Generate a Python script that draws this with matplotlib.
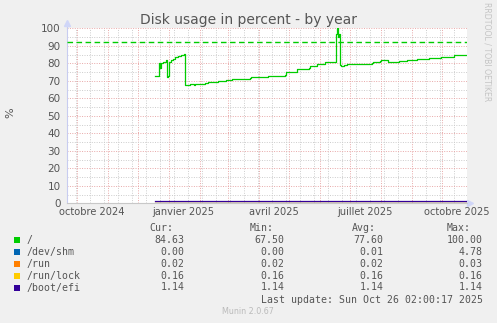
import numpy as np
import pandas as pd
import matplotlib
matplotlib.use("Agg")
import matplotlib.pyplot as plt
import matplotlib.dates as mdates
from matplotlib.patches import Rectangle

# ---- data
root_dates = ["2024-12-18", "2024-12-21", "2024-12-22", "2024-12-23", "2024-12-24",
              "2024-12-26", "2024-12-29", "2024-12-30", "2024-12-31", "2025-01-01",
              "2025-01-03", "2025-01-05", "2025-01-07", "2025-01-10", "2025-01-13",
              "2025-01-16", "2025-01-17", "2025-01-22", "2025-01-26", "2025-01-27",
              "2025-02-04", "2025-02-06", "2025-02-09", "2025-02-13", "2025-02-14",
              "2025-02-18", "2025-02-19", "2025-02-23", "2025-02-27", "2025-03-05",
              "2025-03-13", "2025-03-23", "2025-03-24", "2025-04-10", "2025-04-27",
              "2025-04-28", "2025-05-08", "2025-05-09", "2025-05-21", "2025-05-22",
              "2025-05-28", "2025-05-29", "2025-06-05", "2025-06-06", "2025-06-08",
              "2025-06-10", "2025-06-16", "2025-06-17", "2025-06-18", "2025-06-19",
              "2025-06-20", "2025-06-21", "2025-06-22", "2025-06-25", "2025-06-28",
              "2025-07-23", "2025-07-24", "2025-07-31", "2025-08-01", "2025-08-06",
              "2025-08-08", "2025-08-18", "2025-08-19", "2025-08-26", "2025-08-27",
              "2025-09-05", "2025-09-06", "2025-09-17", "2025-09-18", "2025-09-29",
              "2025-09-30", "2025-10-12", "2025-10-13", "2025-10-25"]
root_vals = [72.6, 72.6, 80.3, 77.5, 80.0,
             80.8, 82.0, 72.4, 72.8, 81.0,
             81.6, 82.4, 83.5, 84.1, 85.0,
             85.5, 67.6, 67.9, 67.6, 68.0,
             68.0, 68.6, 69.2, 69.2, 69.5,
             69.3, 69.8, 69.6, 70.3, 70.8,
             71.1, 71.5, 72.4, 72.9, 73.1,
             75.0, 75.2, 77.0, 77.2, 78.3,
             78.5, 79.6, 79.8, 80.6, 80.9,
             80.6, 81.0, 96.5, 100.0, 95.0,
             97.0, 79.0, 78.3, 79.2, 79.8,
             80.2, 81.0, 81.2, 81.7, 81.6,
             80.6, 80.6, 81.1, 81.3, 81.7,
             81.8, 82.3, 82.5, 82.9, 83.0,
             83.4, 83.5, 84.6, 84.63]

other_span = ["2024-12-18", "2025-10-25"]

names = ["/", "/dev/shm", "/run", "/run/lock", "/boot/efi"]
colors = ["#00CC00", "#0066B3", "#FF8000", "#FFCC00", "#330099"]
cur_vals = [84.63, 0.00, 0.02, 0.16, 1.14]
min_vals = [67.50, 0.00, 0.02, 0.16, 1.14]
avg_vals = [77.60, 0.01, 0.02, 0.16, 1.14]
max_vals = [100.00, 4.78, 0.03, 0.16, 1.14]
warning = 92

tick_labels = ["octobre 2024", "janvier 2025", "avril 2025", "juillet 2025", "octobre 2025"]
tick_dates = ["2024-10-16", "2025-01-16", "2025-04-16", "2025-07-16", "2025-10-16"]

t_start = pd.Timestamp("2024-09-21 02:00")
t_end = pd.Timestamp("2025-10-26 02:00")

W, H = 497, 323
bg = "#F0F0F0"
txt = "#555555"


def fx(x):
    return x / W


def fy(y):
    return 1 - y / H


fig = plt.figure(figsize=(W / 100, H / 100), dpi=100, facecolor=bg)
ax = fig.add_axes([fx(66.7), fy(203.3), 400 / W, 175 / H])
ax.set_facecolor("white")

# ---- grid
ax.set_xlim(t_start, t_end)
ax.set_ylim(0, 100)
ax.xaxis.set_major_locator(mdates.MonthLocator())
biweekly = pd.date_range("2024-09-30", t_end, freq="14D")
ax.xaxis.set_minor_locator(matplotlib.ticker.FixedLocator(mdates.date2num(biweekly)))
ax.yaxis.set_major_locator(matplotlib.ticker.MultipleLocator(10))
ax.yaxis.set_minor_locator(matplotlib.ticker.MultipleLocator(5))
ax.grid(which="minor", color="#CCCCCC", linestyle=(0, (1, 1.5)), linewidth=0.7)
ax.grid(which="major", color="#E8A8A8", linestyle=(0, (1, 1.5)), linewidth=0.7)
ax.set_axisbelow(True)
ax.tick_params(which="both", length=0)
ax.tick_params(axis="y", labelsize=7.5, labelcolor=txt, pad=4.5)
ax.set_xticklabels([])
for s in ["top", "right"]:
    ax.spines[s].set_visible(False)
ax.spines["left"].set_color("#C8CCF0")
ax.spines["bottom"].set_color("#C8C8C8")
ax.spines["left"].set_linewidth(0.8)
ax.spines["bottom"].set_linewidth(0.8)

for lab, d in zip(tick_labels, tick_dates):
    ax.text(pd.Timestamp(d), -0.05, lab, transform=ax.get_xaxis_transform(),
            ha="center", va="center", fontsize=7.1, color=txt)

# ---- series
ax.plot(pd.to_datetime(root_dates), root_vals, color=colors[0], lw=0.9,
        drawstyle="steps-post", zorder=3)
span = pd.to_datetime(other_span)
for i in range(1, len(names)):
    ax.plot(span, [cur_vals[i]] * 2, color=colors[i], lw=0.9, zorder=3)
ax.axhline(warning, color="#00CC00", lw=1.0, linestyle=(0, (4, 2.5)), zorder=3)

# axis arrows
ax.plot([0, 0], [1.0, 1.03], color="#C8CCF0", lw=0.8, transform=ax.transAxes, clip_on=False)
ax.plot([0], [1.03], marker="^", color="#D0D6F8", markersize=5, transform=ax.transAxes,
        clip_on=False)
ax.plot([1.008], [0], marker=">", color="#D0D6F8", markersize=5, transform=ax.transAxes,
        clip_on=False)

# ---- texts
fig.text(0.5, fy(20), "Disk usage in percent - by year", ha="center", va="center",
         fontsize=10, color=txt)
fig.text(fx(10), fy(113), "%", rotation=90, ha="center", va="center", fontsize=8, color=txt)
fig.text(fx(487), fy(52), "RRDTOOL / TOBI OETIKER", rotation=270, ha="center", va="center",
         fontsize=5.6, color="#C4C4C4")

mono = dict(family="DejaVu Sans Mono", fontsize=7.1, color=txt, va="center")
headers = ["Cur:", "Min:", "Avg:", "Max:"]
head_x = [149.7, 249.3, 352.3, 446.7]
col_x = [184.3, 284.3, 383.3, 482.7]
for h, x in zip(headers, head_x):
    fig.text(fx(x), fy(227.7), h, ha="left", **mono)

row_y = [240, 252, 263.8, 275.7, 287.5]
cols = [cur_vals, min_vals, avg_vals, max_vals]
for i, name in enumerate(names):
    y = row_y[i]
    fig.add_artist(Rectangle((fx(14), fy(y + 3)), 6 / W, 6 / H, transform=fig.transFigure,
                             facecolor=colors[i], edgecolor="none"))
    fig.text(fx(26.7), fy(y), name, ha="left", **mono)
    for c, x in zip(cols, col_x):
        fig.text(fx(x), fy(y), "%.2f" % c[i], ha="right", **mono)

fig.text(fx(482.7), fy(299.7), "Last update: Sun Oct 26 02:00:17 2025", ha="right", **mono)
fig.text(fx(248), fy(311.5), "Munin 2.0.67", ha="center", va="center", fontsize=5.8,
         color="#BBBBBB")

fig.savefig("out.png", dpi=100, facecolor=bg)
